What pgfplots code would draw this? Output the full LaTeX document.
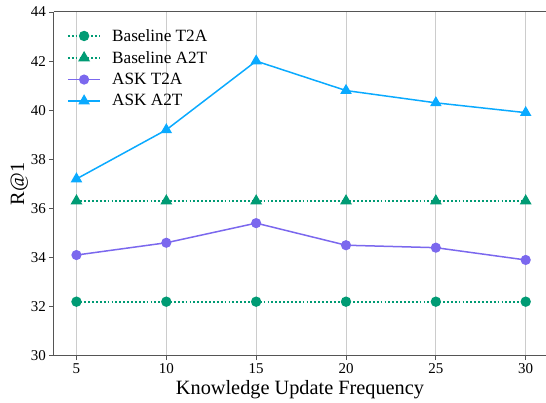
\documentclass[border=0pt]{standalone}
\usepackage{pgfplots}
\pgfplotsset{compat=1.18}
\usepackage{fontspec}
\setmainfont{Liberation Serif}
\definecolor{cgreen}{HTML}{009B74}
\definecolor{cpurple}{HTML}{7B68EE}
\definecolor{cblue}{HTML}{0AAAFF}
\definecolor{cspine}{HTML}{555555}
\begin{document}
\begin{tikzpicture}
\begin{axis}[
  scale only axis,
  width=492pt, height=343.7pt,
  xmin=3.75, xmax=31.13,
  ymin=30, ymax=44,
  xtick={5,10,15,20,25,30},
  ytick={30,32,34,36,38,40,42,44},
  axis y line*=left,
  tick pos=left,
  tick align=outside,
  major tick length=4.5pt,
  tick style={cspine, line width=0.9pt},
  axis line style={cspine, line width=1pt},
  xmajorgrids,
  grid style={color=black!20, line width=1pt},
  /pgf/number format/assume math mode=true,
  ticklabel style={font=\fontsize{15}{18}\selectfont},
  xlabel={Knowledge Update Frequency},
  ylabel={R@1},
  label style={font=\fontsize{20.3}{24}\selectfont},
  xlabel style={yshift=0pt},
  ylabel style={yshift=-4pt},
  legend style={draw=none, fill=none, at={(0.02,0.962)}, anchor=north west,
    font=\fontsize{17.2}{20}\selectfont, row sep=4.5pt},
  legend cell align=left,
  legend image code/.code={\draw[mark repeat=2,mark phase=2] plot coordinates {(0cm,0cm) (0.57cm,0cm) (1.14cm,0cm)};\path (1.14cm+9pt,0cm);},
]
\addplot[color=cgreen, line width=1.7pt, dash pattern=on 1.8pt off 2.1pt, mark=*, mark size=4.3pt, mark options={solid, fill=cgreen}]
  coordinates {(5,32.2) (10,32.2) (15,32.2) (20,32.2) (25,32.2) (30,32.2)};
\addlegendentry{Baseline T2A}
\addplot[color=cgreen, line width=1.7pt, dash pattern=on 1.8pt off 2.1pt, mark=triangle*, mark size=5.2pt, mark options={solid, fill=cgreen}]
  coordinates {(5,36.3) (10,36.3) (15,36.3) (20,36.3) (25,36.3) (30,36.3)};
\addlegendentry{Baseline A2T}
\addplot[color=cpurple, line width=1.5pt, mark=*, mark size=4.3pt, mark options={solid, fill=cpurple}]
  coordinates {(5,34.1) (10,34.6) (15,35.4) (20,34.5) (25,34.4) (30,33.9)};
\addlegendentry{ASK T2A}
\addplot[color=cblue, line width=1.5pt, mark=triangle*, mark size=5.2pt, mark options={solid, fill=cblue}]
  coordinates {(5,37.2) (10,39.2) (15,42.0) (20,40.8) (25,40.3) (30,39.9)};
\addlegendentry{ASK A2T}
\end{axis}
\pgfresetboundingbox
\path[use as bounding box] ([xshift=-54pt,yshift=-47.3pt]current axis.south west) rectangle ([yshift=12pt]current axis.north east);
\end{tikzpicture}
\end{document}
